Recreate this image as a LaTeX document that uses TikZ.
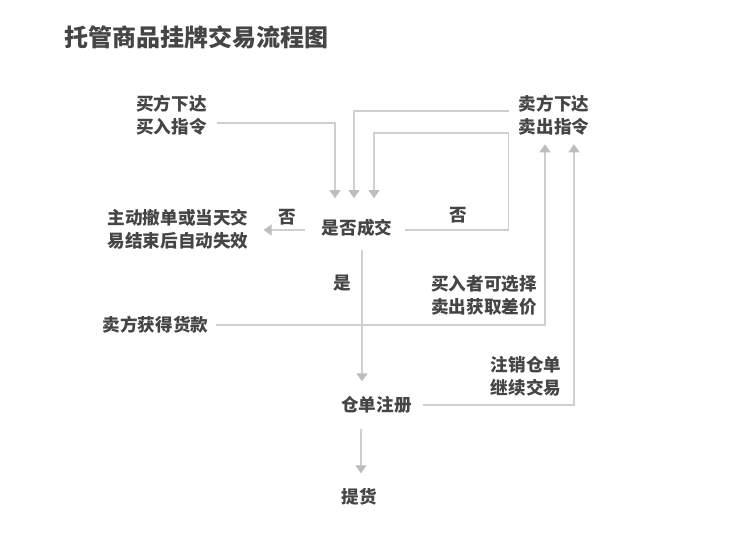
\documentclass[tikz,border=0pt]{standalone}
\usepackage{fontspec}
\setmainfont{Noto Sans CJK SC}
\usetikzlibrary{arrows.meta}
\definecolor{txtgray}{HTML}{454545}
\definecolor{linegray}{HTML}{CFCFCF}
\definecolor{tipgray}{HTML}{BDBDBD}
\begin{document}
\begin{tikzpicture}[x=1pt,y=-1pt,
  lbl/.style={inner sep=0pt, text=txtgray, font=\fontsize{17.6}{23}\selectfont\bfseries, align=center},
  link/.style={draw=linegray, line width=1.2pt},
  arrow/.style={link, -{Triangle[width=11pt,length=8pt,color=tipgray]}}]
\useasboundingbox (0,0) rectangle (735,536);
\node[lbl, anchor=west, font=\fontsize{24}{24}\selectfont\bfseries] (title) at (64,37) {托管商品挂牌交易流程图};
\node[lbl] (buy) at (171.5,115) {买方下达\\买入指令};
\node[lbl] (sell) at (554,115) {卖方下达\\卖出指令};
\node[lbl] (deal) at (357,228) {是否成交};
\node[lbl] (cancel) at (178,229) {主动撤单或当天交\\易结束后自动失效};
\node[lbl] (paid) at (155.5,325) {卖方获得货款};
\node[lbl] (option) at (484,295) {买入者可选择\\卖出获取差价};
\node[lbl] (cont) at (526,376) {注销仓单\\继续交易};
\node[lbl] (reg) at (376.5,405) {仓单注册};
\node[lbl] (pick) at (359.5,497) {提货};
\node[lbl] (yes) at (342,283) {是};
\node[lbl] (noleft) at (287,217) {否};
\node[lbl] (noright) at (458,215) {否};
% orders into the match
\draw[arrow] ([xshift=10pt,yshift=-8pt]buy.east) -| ([xshift=-22pt,yshift=21pt]deal.north);
\draw[arrow] ([xshift=-10pt,yshift=4pt]sell.west) -| ([xshift=-3pt,yshift=21pt]deal.north);
\draw[arrow] ([xshift=13pt,yshift=-2pt]deal.east) -- ++(103,0) -- ++(0,-97) -| ([xshift=17pt,yshift=21pt]deal.north);
\draw[arrow] ([xshift=-17pt,yshift=-2pt]deal.west) coordinate (d0) -- ([xshift=15pt]cancel.east |- d0);
% settled trades
\draw[arrow] ([xshift=5pt,yshift=-13pt]deal.south) coordinate (d1) -- ([yshift=15pt]reg.north -| d1);
\draw[arrow] ([xshift=1.5pt,yshift=-15pt]pick.north |- reg.south) coordinate (r1) -- ([yshift=15pt]pick.north -| r1);
\draw[arrow] ([xshift=7pt]paid.east) -| ([xshift=-9pt,yshift=-9pt]sell.south);
\draw[arrow] ([xshift=11pt]reg.east) -| ([xshift=20pt,yshift=-9pt]sell.south);
\end{tikzpicture}
\end{document}
